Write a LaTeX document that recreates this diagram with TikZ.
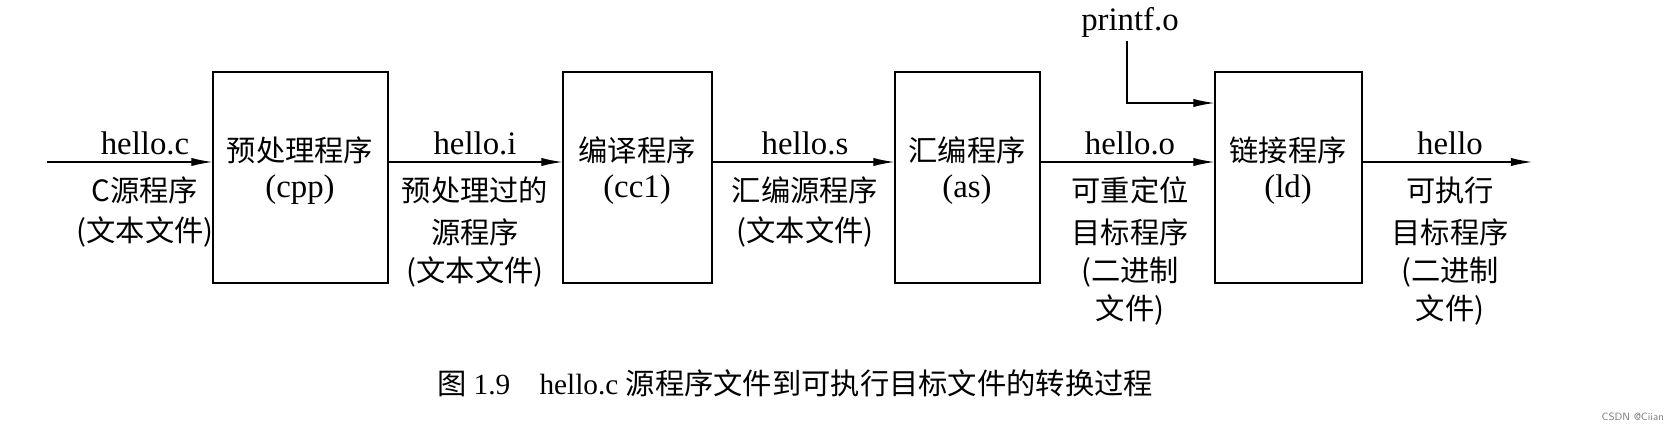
\documentclass[tikz,border=0pt]{standalone}
\usepackage{fontspec}
\setmainfont{Liberation Serif}
\newfontfamily\cjk{Noto Sans CJK SC}
\usetikzlibrary{arrows.meta}
\begin{document}
\begin{tikzpicture}[x=0.03cm,y=-0.03cm,
  box/.style={draw,line width=1pt,minimum width=#1*0.03cm,minimum height=211*0.03cm,inner sep=0pt},
  lab/.style={font=\fontsize{28}{30}\selectfont},
  zh/.style={font=\fontsize{25}{28}\selectfont\cjk},
  arr/.style={line width=1pt,-{Latex[length=18pt,width=7pt]}}]
\useasboundingbox[fill=white] (0,0) rectangle (1672,429);
\node[box=175] (b1) at (300.5,177.5) {};
\node[box=149] (b2) at (637.5,177.5) {};
\node[box=145] (b3) at (967.5,177.5) {};
\node[box=147] (b4) at (1288.5,177.5) {};
\node[zh] at (300,150) {预处理程序};
\node[lab] at (300,190) {(cpp)};
\node[zh] at (637,150) {编译程序};
\node[lab] at (637,190) {(cc1)};
\node[zh] at (967,150) {汇编程序};
\node[lab] at (967,190) {(as)};
\node[zh] at (1288,150) {链接程序};
\node[lab] at (1288,190) {(ld)};
\coordinate (s) at (47,162);
\coordinate (e) at (1532,162);
\draw[arr] (s) -- (b1.west|-s);
\draw[arr] (b1.east|-s) -- (b2.west|-s);
\draw[arr] (b2.east|-s) -- (b3.west|-s);
\draw[arr] (b3.east|-s) -- (b4.west|-s);
\draw[arr] (b4.east|-s) -- (e);
\node[lab] (p) at (1130,22) {printf.o};
\coordinate (pc) at (1127,103);
\draw[arr] (p.south-|pc) -- (pc) -- (b4.west|-pc);
\node[lab] at (145,143) {hello.c};
\node[zh] at (145,190) {C源程序};
\node[zh] at (145,232) {(文本文件)};
\node[lab] at (475,143) {hello.i};
\node[zh] at (475,190) {预处理过的};
\node[zh] at (475,232) {源程序};
\node[zh] at (475,272) {(文本文件)};
\node[lab] at (805,143) {hello.s};
\node[zh] at (805,190) {汇编源程序};
\node[zh] at (805,232) {(文本文件)};
\node[lab] at (1130,143) {hello.o};
\node[zh] at (1130,190) {可重定位};
\node[zh] at (1130,232) {目标程序};
\node[zh] at (1130,272) {(二进制};
\node[zh] at (1130,310) {文件)};
\node[lab] at (1450,143) {hello};
\node[zh] at (1450,190) {可执行};
\node[zh] at (1450,232) {目标程序};
\node[zh] at (1450,272) {(二进制};
\node[zh] at (1450,310) {文件)};
\node[font=\fontsize{25}{28}\selectfont] at (795,383) {{\cjk 图} 1.9\quad hello.c {\cjk 源程序文件到可执行目标文件的转换过程}};
\node[font=\fontsize{9}{10}\selectfont\sffamily,text=gray,anchor=east] at (1668,417) {CSDN @Ciian};
\end{tikzpicture}
\end{document}
